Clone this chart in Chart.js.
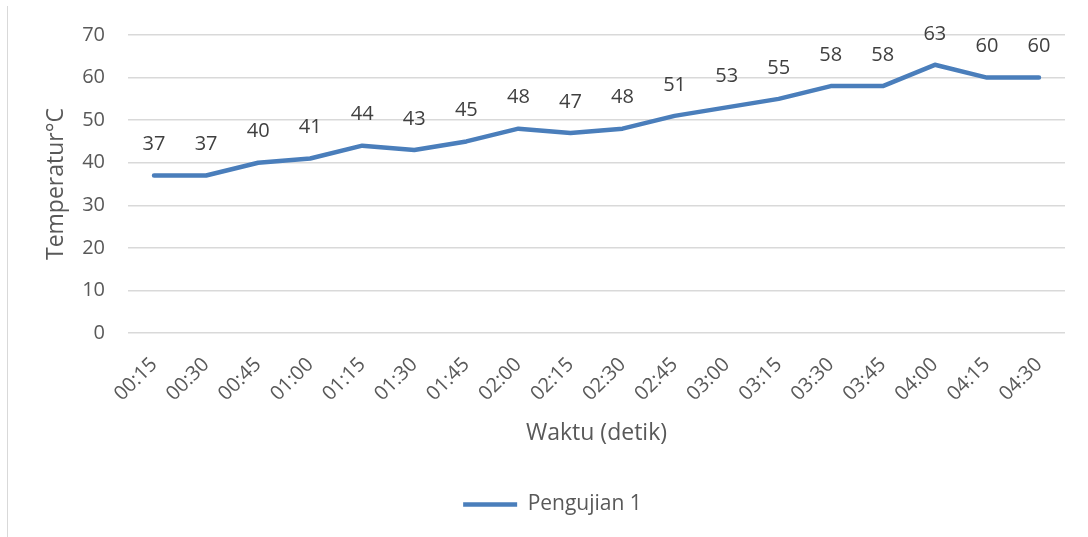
<!DOCTYPE html>
<html>
<head>
<meta charset="utf-8">
<script src="https://cdn.jsdelivr.net/npm/chart.js@4/dist/chart.umd.min.js"></script>
<style>
  html, body { margin: 0; padding: 0; background: #fff; }
  #wrap { position: relative; width: 1088px; height: 537px; }
  #edge { position: absolute; left: 7px; top: 6px; bottom: 0; width: 1px; background: #d9d9d9; }
</style>
</head>
<body>
<div id="wrap">
  <div id="edge"></div>
  <canvas id="chart" width="1088" height="537"></canvas>
</div>
<script>
// waktu pengujian (menit:detik)
const labels = ['00:15', '00:30', '00:45', '01:00', '01:15', '01:30', '01:45', '02:00', '02:15',
                '02:30', '02:45', '03:00', '03:15', '03:30', '03:45', '04:00', '04:15', '04:30'];
const suhu = [37, 37, 40, 41, 44, 43, 45, 48, 47, 48, 51, 53, 55, 58, 58, 63, 60, 60];
const seriesName = 'Pengujian 1';
const yTicks = [0, 10, 20, 30, 40, 50, 60, 70];

const lineColor = '#4a7ebb';
const textColor = '#595959';
const fontFamily = '"Open Sans", Lato, sans-serif';
const fontSize = 20;
const titleSize = 23;

// angka di atas tiap titik
const valueLabels = {
    id: 'valueLabels',
    afterDatasetsDraw(chart) {
        const ctx = chart.ctx;
        const meta = chart.getDatasetMeta(0);
        ctx.save();
        ctx.font = fontSize + 'px ' + fontFamily;
        ctx.fillStyle = '#404040';
        ctx.textAlign = 'center';
        ctx.textBaseline = 'middle';
        meta.data.forEach((pt, i) => {
            ctx.fillText(String(suhu[i]), pt.x, pt.y - 31);
        });
        ctx.restore();
    }
};

new Chart(document.getElementById('chart'), {
    type: 'line',
    data: {
        labels: labels,
        datasets: [{
            label: seriesName,
            data: suhu,
            borderColor: lineColor,
            backgroundColor: lineColor,
            borderWidth: 4.5,
            borderCapStyle: 'round',
            borderJoinStyle: 'round',
            pointRadius: 0,
            tension: 0
        }]
    },
    options: {
        responsive: false,
        animation: false,
        layout: { padding: { left: 40, right: 23, top: 34, bottom: 12 } },
        scales: {
            x: {
                offset: true,
                grid: { display: false },
                border: { display: false },
                ticks: {
                    color: textColor,
                    font: { family: fontFamily, size: fontSize },
                    minRotation: 45,
                    maxRotation: 45,
                    autoSkip: false,
                    padding: 12
                },
                title: {
                    display: true,
                    text: 'Waktu (detik)',
                    color: textColor,
                    font: { family: fontFamily, size: titleSize },
                    padding: { top: 0, bottom: 16 }
                },
                afterFit(scale) { scale.height = 130; }
            },
            y: {
                min: 0,
                max: 70,
                afterBuildTicks(scale) { scale.ticks = yTicks.map(v => ({ value: v })); },
                grid: { color: '#d9d9d9', lineWidth: 1.5, drawTicks: false },
                border: { display: false },
                ticks: {
                    color: textColor,
                    font: { family: fontFamily, size: fontSize },
                    padding: 23
                },
                title: {
                    display: true,
                    text: 'Temperatur°C',
                    color: textColor,
                    font: { family: fontFamily, size: titleSize },
                    padding: { top: 3, bottom: 0 }
                },
                afterFit(scale) { scale.width = 88; }
            }
        },
        plugins: {
            legend: {
                position: 'bottom',
                labels: {
                    color: textColor,
                    font: { family: fontFamily, size: 21 },
                    usePointStyle: true,
                    pointStyle: 'line',
                    pointStyleWidth: 54,
                    boxHeight: 20,
                    padding: 31
                }
            },
            tooltip: { enabled: false }
        }
    },
    plugins: [valueLabels]
});
</script>
</body>
</html>
